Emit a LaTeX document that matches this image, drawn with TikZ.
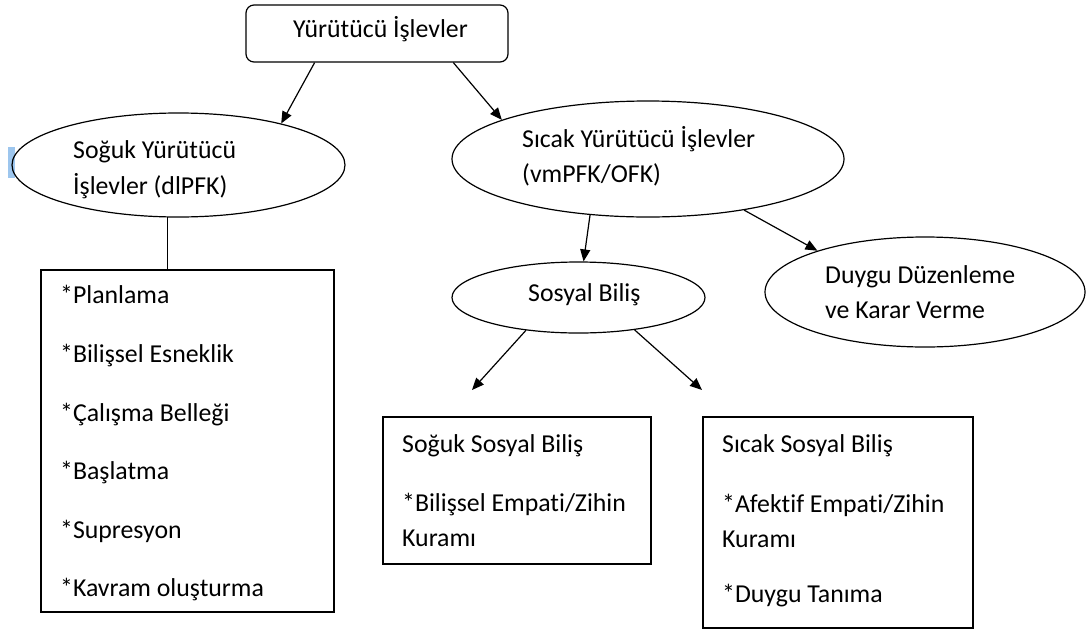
\documentclass[tikz,border=0pt]{standalone}
\usepackage{fontspec}
\setmainfont{Carlito}[Ligatures=CommonOff]
\usetikzlibrary{shapes.geometric,arrows.meta,calc}
\definecolor{selblue}{HTML}{9DC6EE}
\begin{document}
\begin{tikzpicture}[x=1pt,y=-1pt,
  lbl/.style={anchor=base west, inner sep=0pt, font=\fontsize{25.8}{30}\selectfont},
  ell/.style={draw, ellipse, inner sep=0pt, line width=1.2pt},
  boxed/.style={draw, rectangle, inner sep=0pt, line width=1.2pt},
  arr/.style={-{Triangle[length=12pt,width=10pt]}, line width=1.2pt},
  conn/.style={line width=1.2pt}]
\useasboundingbox (0,0) rectangle (1089,635);
% selection artifact
\fill[selblue] (8,147) rectangle (15,178);
% shapes
\node[boxed, rounded corners=8pt, minimum width=262pt, minimum height=57pt] (top) at (377,33.5) {};
\node[ell, minimum width=333pt, minimum height=104pt] (soguk) at (178.5,165) {};
\node[ell, minimum width=392pt, minimum height=116pt] (sicak) at (648,159) {};
\node[ell, minimum width=253pt, minimum height=71pt] (sosyal) at (578.5,297.5) {};
\node[ell, minimum width=320pt, minimum height=110pt] (duygu) at (925,292) {};
\node[boxed, minimum width=293pt, minimum height=342pt] (list) at (187.5,441) {};
\node[boxed, minimum width=268pt, minimum height=147pt] (cold) at (517,490.5) {};
\node[boxed, minimum width=270pt, minimum height=211pt] (hot) at (838,522.5) {};
% texts
\node[lbl] (t0) at (293,37) {Yürütücü İşlevler};
\node[lbl] (t1) at (73,158) {Soğuk Yürütücü};
\node[lbl] (t2) at (73,194) {İşlevler (dlPFK)};
\node[lbl] (t3) at (522,147) {Sıcak Yürütücü İşlevler};
\node[lbl] (t4) at (522,182) {(vmPFK/OFK)};
\node[lbl] (t5) at (825,283) {Duygu Düzenleme};
\node[lbl] (t6) at (825,318) {ve Karar Verme};
\node[lbl] (t7) at (528,301) {Sosyal Biliş};
\node[lbl] (l1) at (60,303) {*Planlama};
\node[lbl] (l2) at (60,362) {*Bilişsel Esneklik};
\node[lbl] (l3) at (60,421) {*Çalışma Belleği};
\node[lbl] (l4) at (60,479) {*Başlatma};
\node[lbl] (l5) at (60,538) {*Supresyon};
\node[lbl] (l6) at (60,596) {*Kavram oluşturma};
\node[lbl] (c1) at (402,452) {Soğuk Sosyal Biliş};
\node[lbl] (c2) at (402,511) {*Bilişsel Empati/Zihin};
\node[lbl] (c3) at (402,546) {Kuramı};
\node[lbl] (h1) at (722,452) {Sıcak Sosyal Biliş};
\node[lbl] (h2) at (722,512) {*Afektif Empati/Zihin};
\node[lbl] (h3) at (722,547) {Kuramı};
\node[lbl] (h4) at (722,602) {*Duygu Tanıma};
% free arrow ends
\coordinate (tipL) at (472,390);
\coordinate (tipR) at (702,390);
% connectors
\draw[arr] ($(top.south west)!0.263!(top.south east)$) -- (soguk.22);
\draw[arr] ($(top.south west)!0.79!(top.south east)$) -- (sicak.165);
\draw[conn] (soguk.258) -- (soguk.258 |- list.north);
\draw[arr] (sicak.224) -- (sosyal.82.5);
\draw[arr] (sicak.-28) -- (duygu.159);
\draw[arr] (sosyal.212) -- (tipL);
\draw[arr] (sosyal.-30) -- (tipR);
\end{tikzpicture}
\end{document}
